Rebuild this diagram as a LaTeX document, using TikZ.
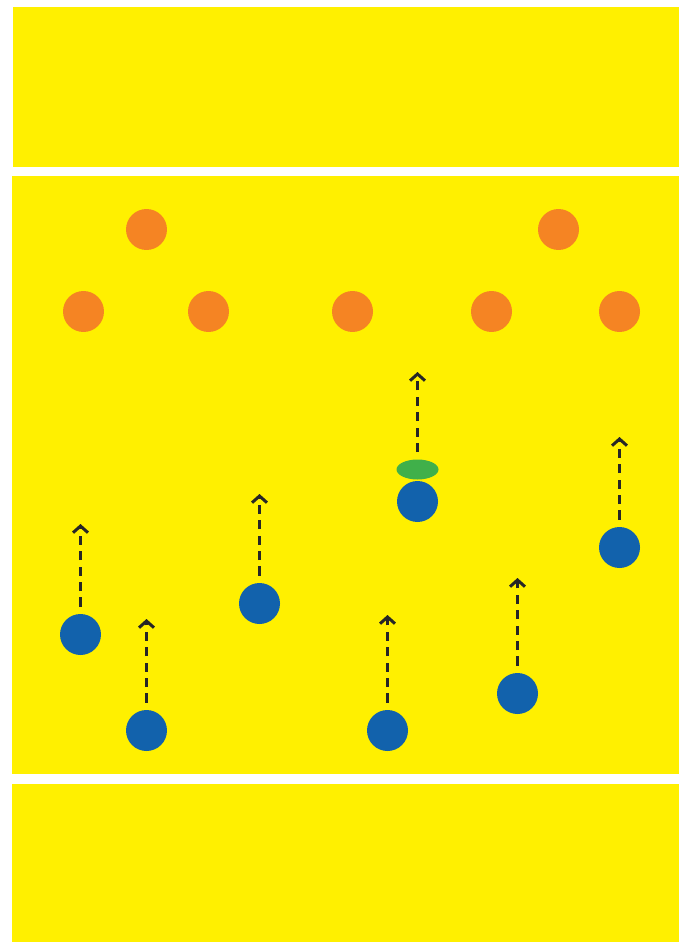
\documentclass[tikz,border=0pt]{standalone}
\usetikzlibrary{arrows.meta,shapes.geometric}
\definecolor{pitch}{HTML}{FFF000}
\definecolor{coneorange}{HTML}{F58423}
\definecolor{playerblue}{HTML}{1262AC}
\definecolor{ballgreen}{HTML}{40B04A}
\begin{document}
\begin{tikzpicture}[
  x=0.02cm,y=-0.02cm,
  zone/.style={fill=pitch,draw=none},
  cone/.style={circle,fill=coneorange,minimum size=0.82cm,inner sep=0pt},
  player/.style={circle,fill=playerblue,minimum size=0.82cm,inner sep=0pt},
  ball/.style={ellipse,fill=ballgreen,minimum width=0.84cm,minimum height=0.4cm,inner sep=0pt},
  run/.style={line width=1.7pt,black!85,dash pattern=on 5.2pt off 3.6pt,
    -{Straight Barb[length=3.8pt,width=8.5pt,line width=1.7pt]},shorten <=4pt}
]
\fill[white] (0,0) rectangle (679,942);
\useasboundingbox (0,0) rectangle (679,942);
% pitch zones
\fill[zone] (13,7) rectangle (679,167);
\fill[zone] (12,176) rectangle (679,774);
\fill[zone] (12,784) rectangle (679,942);
% cones
\node[cone] (c1) at (146.5,229.5) {};
\node[cone] (c2) at (558.5,229.5) {};
\node[cone] (c3) at (83.5,311.5) {};
\node[cone] (c4) at (208.5,311.5) {};
\node[cone] (c5) at (352.5,311.5) {};
\node[cone] (c6) at (491.5,311.5) {};
\node[cone] (c7) at (619.5,311.5) {};
% players
\node[player] (p1) at (417.5,501.5) {};
\node[player] (p2) at (619.5,547.5) {};
\node[player] (p3) at (259.5,603.5) {};
\node[player] (p4) at (80.5,634.5) {};
\node[player] (p5) at (146.5,730.5) {};
\node[player] (p6) at (387.5,730.5) {};
\node[player] (p7) at (517.5,693.5) {};
\node[ball] (ball) at (417.5,469.5) {};
% run targets
\coordinate (t1) at (417.5,372);
\coordinate (t2) at (619.5,437);
\coordinate (t3) at (259.5,494);
\coordinate (t4) at (80.5,524);
\coordinate (t5) at (146.5,619);
\coordinate (t6) at (387.5,615);
\coordinate (t7) at (517.5,578);
\draw[run] (ball) -- (t1);
\foreach \p in {2,...,7} \draw[run] (p\p) -- (t\p);
\end{tikzpicture}
\end{document}
